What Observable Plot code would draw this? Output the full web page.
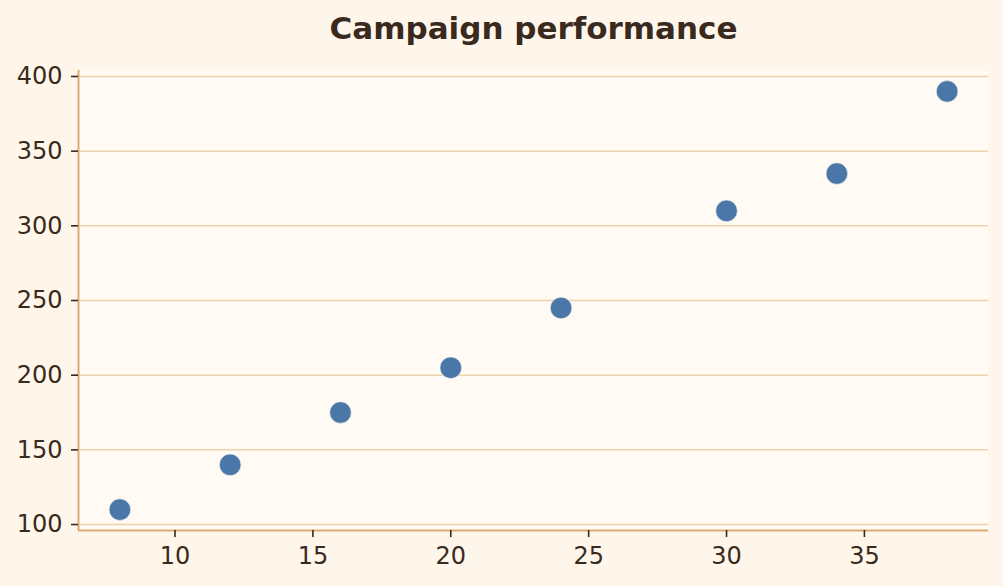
<!DOCTYPE html>
<html>
<head>
<meta charset="utf-8">
<script src="https://cdn.jsdelivr.net/npm/d3@7"></script>
<script src="https://cdn.jsdelivr.net/npm/@observablehq/plot@0.6"></script>
<style>
  html, body { margin: 0; padding: 0; background: #fff6eb; }
  #wrap { position: relative; width: 1003px; height: 586px; overflow: hidden; font-family: "DejaVu Sans", sans-serif; }
  #title { position: absolute; left: 0; top: 9px; width: 1003px; margin-left: 32px; text-align: center; font-weight: bold; font-size: 31px; color: #3a2a1e; line-height: 38px; }
  #chart { position: absolute; left: 0; top: 50px; }
</style>
</head>
<body>
<div id="wrap">
  <div id="title">Campaign performance</div>
  <div id="chart"></div>
</div>
<script>
const spend = [8, 12, 16, 20, 24, 30, 34, 38];
const conversions = [110, 140, 175, 205, 245, 310, 335, 390];
const xTicks = [10, 15, 20, 25, 30, 35];
const yTicks = [100, 150, 200, 250, 300, 350, 400];

const data = spend.map((s, i) => ({x: s, y: conversions[i]}));
const xDomain = [6.5, 39.5];
const yDomain = [96, 404];

const chart = Plot.plot({
  width: 1003,
  height: 536,
  marginTop: 20,
  marginBottom: 56,
  marginLeft: 78,
  marginRight: 15,
  style: {background: "transparent", fontFamily: "DejaVu Sans, sans-serif", fontSize: "24px", color: "#3a2a1e"},
  x: {domain: xDomain, ticks: xTicks, label: null},
  y: {domain: yDomain, ticks: yTicks, label: null},
  marks: [
    Plot.frame({fill: "#fffaf3", stroke: null}),
    Plot.gridY(yTicks, {stroke: "#ecd3ab", strokeOpacity: 1, strokeWidth: 1.5}),
    Plot.ruleX([xDomain[0]], {stroke: "#dbab70", strokeWidth: 2}),
    Plot.ruleY([yDomain[0]], {stroke: "#dbab70", strokeWidth: 2}),
    Plot.axisX({ticks: xTicks, tickSize: 7, tickPadding: 9, fontSize: 24, stroke: "#3a2a1e", strokeWidth: 1.6, fill: "#3a2a1e", label: null}),
    Plot.axisY({ticks: yTicks, tickSize: 7, tickPadding: 9, fontSize: 24, stroke: "#3a2a1e", strokeWidth: 1.6, fill: "#3a2a1e", label: null}),
    Plot.dot(data, {x: "x", y: "y", r: 10.8, fill: "#4a76a8", stroke: "#fffaf3", strokeWidth: 0.6})
  ]
});
document.getElementById("chart").appendChild(chart);
</script>
</body>
</html>
